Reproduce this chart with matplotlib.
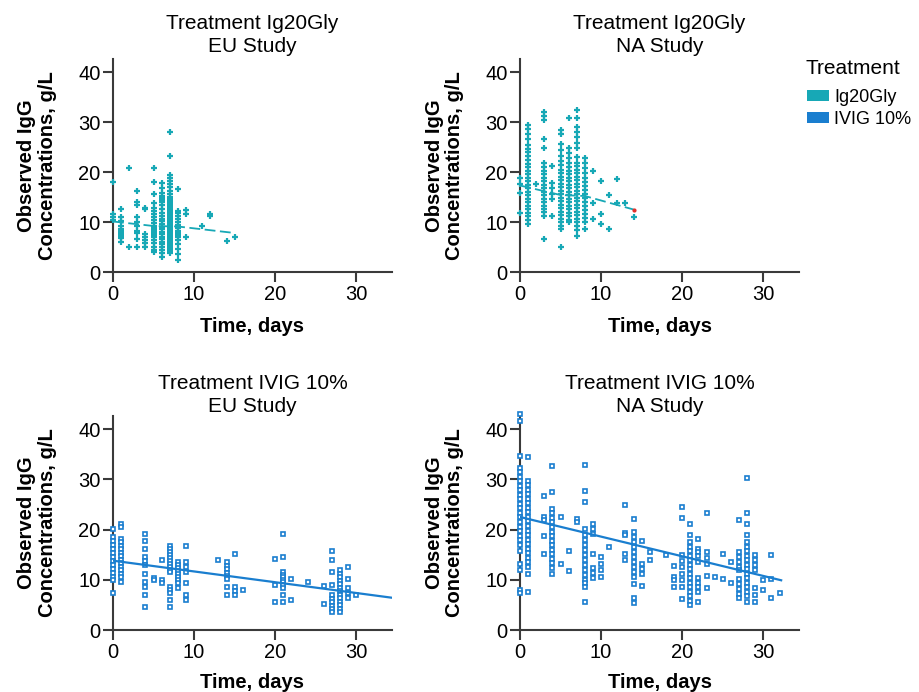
import matplotlib
matplotlib.use("Agg")
import matplotlib.pyplot as plt
from matplotlib.patches import Rectangle

plt.rcParams['font.family'] = ['Liberation Sans', 'DejaVu Sans']

# ---------------- data (time in days, IgG concentration g/L) ----------------
treatments = ["Ig20Gly", "IVIG 10%"]
studies = ["EU Study", "NA Study"]
colors = {"Ig20Gly": "#17A8B6", "IVIG 10%": "#1A7ECF"}

eu_ig20 = [
    (0, [18.0, 11.7, 11.1, 10.5]),
    (1, [12.7, 11.1, 10.3, 9.3, 8.6, 8.3, 8.0, 7.7, 7.4, 7.1, 6.9, 6.0]),
    (2, [20.8, 5.0]),
    (3, [16.2, 14.1, 13.5, 11.0, 10.0, 9.3, 8.3, 7.8, 6.7, 5.1]),
    (4, [12.9, 12.6, 7.7, 7.0, 6.4, 5.8, 5.0]),
    (5, [20.8, 18.1, 15.6, 13.9, 12.9, 12.3, 11.7, 11.1, 10.5, 9.8, 9.2, 8.8, 8.5,
         8.2, 7.9, 7.5, 7.0, 6.4, 5.8, 5.0, 4.4, 4.0]),
    (6, [17.9, 16.9, 15.9, 15.2, 14.9, 14.5, 14.1, 13.4, 12.6, 11.9, 11.3, 10.7, 10.2,
         9.6, 9.1, 8.6, 8.1, 7.6, 7.1, 6.6, 6.1, 5.6, 5.1, 4.5, 3.9, 3.1]),
    (7, [28.1, 23.2, 19.5, 18.9, 18.3, 17.6, 17.0, 16.3, 15.6, 15.0, 14.6, 14.2, 13.8,
         13.4, 13.0, 12.6, 12.2, 11.8, 11.4, 11.0, 10.6, 10.2, 9.8, 9.4, 9.0, 8.6, 8.2,
         7.8, 7.4, 7.0, 6.6, 6.2, 5.8, 5.4, 5.0, 4.6, 4.2, 3.8]),
    (8, [16.6, 12.3, 11.8, 11.2, 10.6, 10.0, 9.4, 8.8, 8.3, 8.0, 7.7, 7.4, 7.1, 6.4,
         5.6, 4.6, 3.6, 2.4]),
    (9, [12.4, 11.7, 7.0]),
    (11, [9.3]),
    (12, [11.7, 11.3]),
    (14, [6.3]),
    (15, [7.0]),
]
eu_ig20_fit_t = [0, 5, 8, 15]
eu_ig20_fit_c = [10.1, 9.2, 9.1, 7.8]

na_ig20 = [
    (0, [18.9, 17.6, 15.9, 11.9]),
    (1, [29.4, 28.6, 27.6, 26.6, 25.5, 24.6, 24.0, 23.2, 22.4, 21.7, 21.0, 20.3, 19.6,
         18.9, 18.2, 17.5, 16.8, 16.1, 15.4, 14.7, 14.0, 13.3, 12.6, 11.9, 11.2, 10.5, 9.6]),
    (2, [17.6]),
    (3, [32.0, 31.3, 30.5, 26.6, 24.8, 21.8, 21.0, 20.3, 19.6, 18.9, 18.2, 17.5, 16.8,
         16.1, 15.4, 14.7, 14.0, 13.3, 12.6, 12.0, 11.3, 6.7]),
    (4, [21.2, 17.9, 16.8, 15.7, 14.6, 11.3]),
    (5, [28.5, 27.6, 25.6, 24.5, 23.2, 22.3, 21.4, 20.5, 19.8, 19.1, 18.4, 17.7, 17.0,
         16.3, 15.6, 14.9, 14.2, 13.5, 12.8, 12.1, 11.4, 10.7, 10.0, 9.3, 8.7, 5.0]),
    (6, [30.8, 24.8, 23.8, 22.8, 21.8, 21.0, 20.3, 19.6, 18.9, 18.2, 17.5, 16.8, 16.1,
         15.4, 14.7, 14.0, 13.3, 12.6, 11.9, 11.2, 10.5, 10.0]),
    (7, [32.4, 30.8, 29.1, 28.0, 27.0, 25.8, 24.8, 23.0, 21.8, 21.2, 20.5, 19.8, 19.1,
         18.4, 17.7, 17.0, 16.3, 15.6, 14.9, 14.2, 13.5, 12.8, 12.1, 11.4, 10.7, 10.0,
         9.3, 8.5, 7.3]),
    (8, [22.8, 21.8, 20.8, 19.8, 18.9, 18.0, 17.2, 16.4, 15.6, 14.8, 14.0, 13.2, 12.4,
         11.6, 10.8, 10.0, 8.7]),
    (9, [20.2, 13.9, 10.6]),
    (10, [18.2, 11.6, 9.6]),
    (11, [15.4, 8.7]),
    (12, [18.7, 13.9]),
    (13, [13.9]),
    (14, [11.0]),
]
na_ig20_fit_t = [0, 5, 8, 14]
na_ig20_fit_c = [17.3, 15.4, 15.2, 12.5]

eu_ivig = [
    (0, [20.1, 18.6, 17.8, 17.0, 16.2, 15.4, 14.6, 13.8, 13.0, 12.2, 11.4, 10.6, 9.9, 7.3]),
    (1, [21.2, 20.5, 18.2, 17.5, 16.8, 16.1, 15.4, 14.7, 14.0, 13.3, 12.6, 11.9, 11.2,
         10.5, 9.6]),
    (4, [19.1, 17.8, 16.2, 14.5, 13.7, 12.9, 11.2, 9.6, 8.6, 6.9, 4.6]),
    (5, [10.3, 10.0]),
    (6, [14.0, 9.9, 9.3]),
    (7, [16.8, 16.2, 15.6, 15.0, 14.4, 13.8, 13.2, 12.6, 12.0, 11.5, 8.6, 8.0, 7.3,
         6.0, 4.6]),
    (8, [13.5, 12.9, 12.3, 11.7, 11.1, 10.5, 9.9, 9.3, 8.3]),
    (9, [16.7, 13.5, 12.5, 11.5, 9.4, 6.9, 5.9]),
    (13, [13.9]),
    (14, [13.5, 12.8, 12.1, 11.4, 10.8, 10.2, 8.6, 6.9]),
    (15, [15.2, 8.6, 7.7, 6.9]),
    (16, [7.9]),
    (20, [14.2, 8.9, 5.6]),
    (21, [19.1, 14.5, 11.5, 11.0, 10.5, 10.0, 9.5, 9.0, 8.3, 6.9, 5.6]),
    (22, [10.2, 5.9]),
    (24, [9.6]),
    (26, [8.8, 5.2]),
    (27, [15.8, 13.9, 11.5, 8.9, 6.9, 6.2, 5.5, 4.8, 4.2, 3.6]),
    (28, [11.9, 11.2, 10.5, 9.8, 9.1, 8.4, 7.7, 7.0, 6.3, 5.6, 4.9, 4.2, 3.6]),
    (29, [12.5, 10.2, 8.3, 7.3, 6.3]),
    (30, [6.9]),
]
eu_ivig_fit_t = [0, 34.5]
eu_ivig_fit_c = [13.8, 6.4]

na_ivig = [
    (0, [42.9, 41.6, 34.7, 32.3, 31.4, 30.5, 29.6, 28.7, 27.8, 26.9, 26.0, 25.1, 24.2,
         23.3, 22.4, 21.5, 20.6, 19.7, 18.8, 17.9, 17.0, 15.8, 13.2, 11.9, 7.9, 7.3]),
    (1, [34.5, 29.7, 28.8, 27.9, 27.0, 26.1, 25.2, 24.3, 23.4, 22.5, 21.6, 20.7, 19.8,
         18.9, 18.0, 17.1, 16.2, 15.3, 14.4, 13.5, 12.6, 11.2, 7.6]),
    (3, [26.6, 22.4, 21.8, 18.8, 15.2]),
    (4, [32.7, 27.4, 24.1, 23.2, 22.3, 21.4, 20.5, 19.6, 18.7, 17.8, 16.9, 16.0, 15.1,
         14.2, 13.3, 12.4, 11.2]),
    (5, [22.4, 13.2]),
    (6, [15.8, 11.7]),
    (7, [22.1, 21.4]),
    (8, [32.9, 27.7, 25.4, 20.1, 19.0, 18.0, 17.0, 16.0, 15.0, 14.0, 13.0, 12.0, 11.0,
         10.0, 9.3, 8.6, 5.5]),
    (9, [21.1, 20.1, 19.1, 15.2, 12.3, 11.3, 10.3]),
    (10, [14.5, 13.2, 11.9, 10.6]),
    (11, [16.5]),
    (13, [24.9, 19.4, 19.0, 15.2, 13.9]),
    (14, [22.1, 19.5, 18.5, 17.5, 16.5, 15.5, 14.5, 13.5, 12.5, 11.5, 10.5, 9.2, 6.3, 5.3]),
    (15, [17.8, 13.2, 12.2, 11.2, 8.8]),
    (16, [15.5, 13.9]),
    (18, [15.0]),
    (19, [12.7, 10.6, 9.9, 8.5]),
    (20, [24.4, 22.3, 14.9, 13.7, 12.5, 11.2, 9.9, 8.5, 6.1]),
    (21, [21.2, 18.9, 17.5, 16.6, 15.7, 14.8, 13.9, 13.0, 12.1, 11.2, 10.3, 9.4, 8.5,
          7.6, 6.7, 5.8, 5.0]),
    (22, [18.2, 16.2, 15.5, 14.8, 13.5, 10.3, 9.4, 8.5, 7.6, 5.6]),
    (23, [23.3, 15.5, 14.3, 13.2, 10.7, 8.3]),
    (24, [10.6]),
    (25, [15.2, 10.2]),
    (26, [13.5, 9.4]),
    (27, [21.8, 15.5, 14.5, 13.5, 12.5, 11.9, 10.2, 9.2, 8.2, 7.2, 6.3]),
    (28, [30.2, 23.3, 21.1, 18.9, 17.5, 16.6, 15.7, 14.8, 13.9, 13.0, 12.1, 11.2, 10.3,
          9.4, 8.5, 7.6, 6.7, 5.6]),
    (29, [14.9, 13.9, 12.9, 11.9, 8.3, 7.0, 5.6]),
    (30, [9.9, 7.9]),
    (31, [14.9, 10.2, 6.3]),
    (32, [7.4]),
]
na_ivig_fit_t = [0, 32.2]
na_ivig_fit_c = [22.5, 9.9]

x_ticks = [0, 10, 20, 30]
y_ticks = [0, 10, 20, 30, 40]

# ---------------- figure ----------------
W, H = 919, 692
fig = plt.figure(figsize=(W / 100, H / 100), dpi=100)

def ax_rect(l, r, b, t):
    return [l / W, 1 - b / H, (r - l) / W, (b - t) / H]

panels = [
    ("Ig20Gly", "EU Study", eu_ig20, eu_ig20_fit_t, eu_ig20_fit_c, (113, 392, 272, 59), 45, 5),
    ("Ig20Gly", "NA Study", na_ig20, na_ig20_fit_t, na_ig20_fit_c, (520, 799, 272, 59), 45, 5),
    ("IVIG 10%", "EU Study", eu_ivig, eu_ivig_fit_t, eu_ivig_fit_c, (113, 392, 630, 416), 43, 2),
    ("IVIG 10%", "NA Study", na_ivig, na_ivig_fit_t, na_ivig_fit_c, (520, 799, 630, 416), 43, 2),
]

axis_col = "#3a3a3a"
FS = 14.5
for trt, study, cols, ft, fc, (l, r, b, t), xl_off, tpad in panels:
    ax = fig.add_axes(ax_rect(l, r, b, t))
    wpx, hpx = r - l, b - t
    col = colors[trt]
    xs = [d for d, vals in cols for _ in vals]
    ys = [v for d, vals in cols for v in vals]
    if trt == "Ig20Gly":
        ax.plot(xs, ys, linestyle="none", marker="+", markersize=4.2,
                markeredgewidth=1.6, color=col, clip_on=False, zorder=3)
        ax.plot(ft, fc, color=col, lw=1.3, linestyle=(0, (6, 2.5)), zorder=4)
        if study == "NA Study":
            ax.plot([ft[-1]], [fc[-1]], marker="o", markersize=2, color="#E0302A",
                    linestyle="none", zorder=5)
    else:
        ax.plot(xs, ys, linestyle="none", marker="s", markersize=3.3,
                markerfacecolor="white", markeredgewidth=1.2, markeredgecolor=col,
                clip_on=False, zorder=3)
        ax.plot(ft, fc, color=col, lw=1.6, zorder=4)
    ax.set_xlim(0, 34.4)
    ax.set_ylim(0, 42.6)
    ax.set_xticks(x_ticks)
    ax.set_yticks(y_ticks)
    for s in ["top", "right"]:
        ax.spines[s].set_visible(False)
    for s in ["left", "bottom"]:
        ax.spines[s].set_color(axis_col)
        ax.spines[s].set_linewidth(1.5)
    ax.tick_params(axis="both", direction="out", length=7, width=1.5, color=axis_col,
                   labelsize=FS, labelcolor="black", pad=2)
    ax.set_title(f"Treatment {trt}\n{study}", fontsize=15, pad=tpad, linespacing=1.25)
    ax.set_xlabel("Time, days", fontsize=FS, fontweight="bold")
    ax.xaxis.set_label_coords(0.5, -xl_off / hpx)
    ax.set_ylabel("Observed IgG\nConcentrations, g/L", fontsize=FS, fontweight="bold",
                  linespacing=1.1)
    ax.yaxis.set_label_coords(-(113 - 57) / wpx, 0.5)

# legend (drawn in figure pixel positions)
fig.text(806 / W, 1 - 69 / H, "Treatment", fontsize=15, ha="left", va="center")
for i, trtname in enumerate(treatments):
    yc = 95 + 22.5 * i
    fig.add_artist(Rectangle((807 / W, 1 - (yc + 5.5) / H), 22 / W, 11 / H,
                             transform=fig.transFigure, facecolor=colors[trtname],
                             edgecolor="none"))
    fig.text(834 / W, 1 - (yc + 2) / H, trtname, fontsize=13, ha="left", va="center")

fig.savefig("out.png", dpi=100)
